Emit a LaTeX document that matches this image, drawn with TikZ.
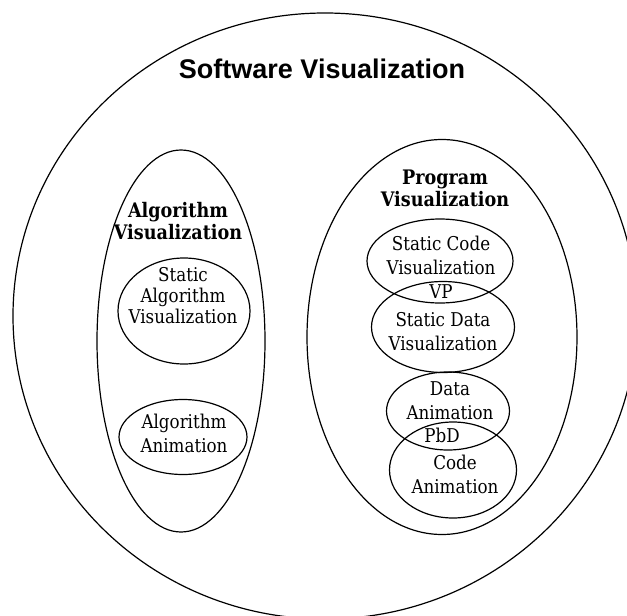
\documentclass[tikz,border=0pt]{standalone}
\usepackage{fontspec}
\setmainfont{DejaVu Serif}[FakeStretch=0.88]
\newfontfamily\headfont{Liberation Sans}
\usetikzlibrary{shapes.geometric}
\tikzset{
  ring/.style={draw, ellipse, line width=1.2pt, inner sep=0pt},
  lbl/.style={align=center, inner sep=0pt, font=\fontsize{19}{24}\selectfont},
  boldlbl/.style={align=center, inner sep=0pt, font=\fontsize{20}{22}\selectfont\bfseries},
}
\begin{document}
\begin{tikzpicture}[x=1pt, y=-1pt]
  \useasboundingbox (0,0) rectangle (627,616);
  \clip (0,0) rectangle (627,616);
  \fill[white] (0,0) rectangle (627,616);

  % outer set
  \node[ring, minimum width=624pt, minimum height=606pt] (sw) at (325,316) {};
  \node[font=\headfont\fontsize{27}{30}\selectfont\bfseries, inner sep=0pt] (swt) at (322,69) {Software Visualization};

  % algorithm visualization
  \node[ring, minimum width=168pt, minimum height=382pt] (av) at (181,341) {};
  \node[boldlbl] (avt) at (178,221) {Algorithm\\Visualization};
  \node[ring, minimum width=132pt, minimum height=106pt] (sav) at (184,311) {};
  \node[lbl, font=\fontsize{19}{21}\selectfont] (savt) at (183,296) {Static\\Algorithm\\Visualization};
  \node[ring, minimum width=128pt, minimum height=75pt] (aa) at (183,437) {};
  \node[lbl] (aat) at (184,433) {Algorithm\\Animation};

  % program visualization
  \node[ring, minimum width=270pt, minimum height=395pt] (pv) at (442,337) {};
  \node[boldlbl] (pvt) at (445,188) {Program\\Visualization};
  \node[ring, minimum width=146pt, minimum height=84pt] (scv) at (440,261) {};
  \node[lbl] (scvt) at (441,255) {Static Code\\Visualization};
  \node[ring, minimum width=143pt, minimum height=91pt] (sdv) at (443,327) {};
  \node[lbl] (sdvt) at (443,332) {Static Data\\Visualization};
  \node[lbl] (vp) at (441,292) {VP};
  \node[ring, minimum width=123pt, minimum height=78pt] (da) at (448,411) {};
  \node[lbl] (dat) at (450,401) {Data\\Animation};
  \node[ring, minimum width=127pt, minimum height=96pt] (ca) at (453,470) {};
  \node[lbl] (cat) at (455,474) {Code\\Animation};
  \node[lbl] (pbd) at (442,435) {PbD};
\end{tikzpicture}
\end{document}
